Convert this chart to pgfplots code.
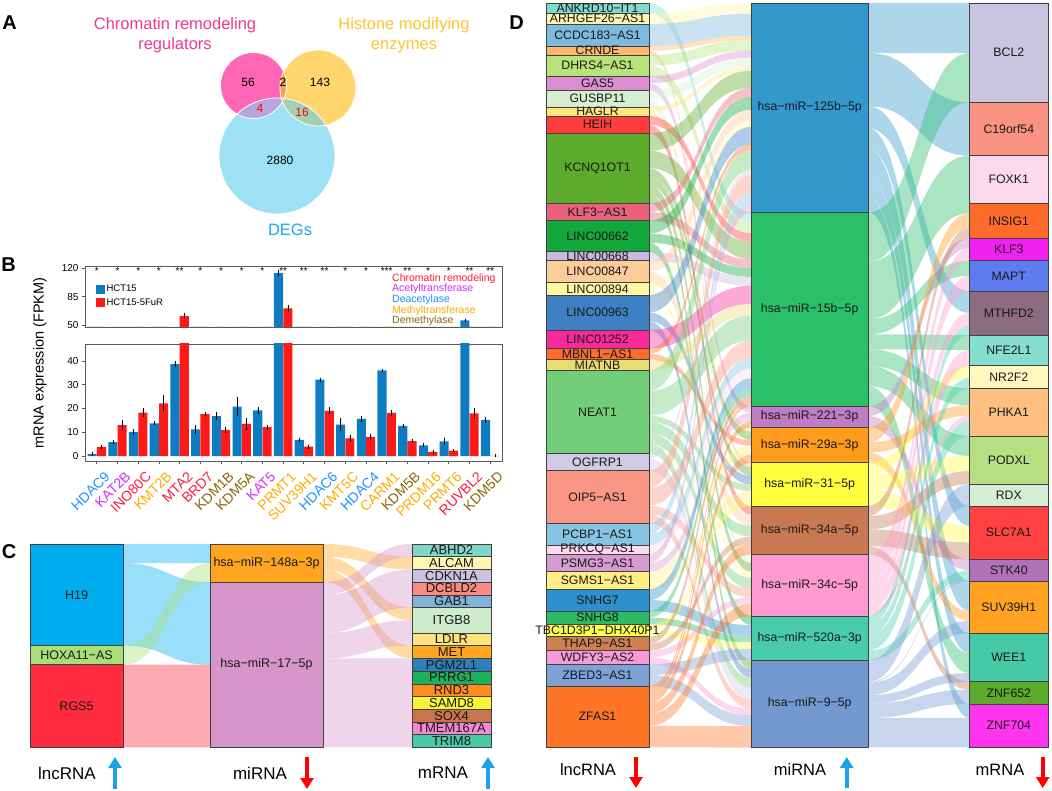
\documentclass[border=0pt]{standalone}
\usepackage{fontspec}
\setmainfont{Liberation Sans}
\usepackage{pgfplots}
\pgfplotsset{compat=1.18}
\usepackage{pgfplotstable}
\usetikzlibrary{arrows.meta}

\newcommand\fs[1]{\fontsize{#1}{#1}\selectfont}

% Venn colours
\definecolor{vPink}{HTML}{FF66B5}\definecolor{vOra}{HTML}{FFD66E}\definecolor{vBlu}{HTML}{9EE0F4}
\definecolor{vPO}{HTML}{F5A04C}\definecolor{vPB}{HTML}{B8A6DB}\definecolor{vOB}{HTML}{A3CFB2}
\definecolor{tPink}{HTML}{F2388E}\definecolor{tOra}{HTML}{FFC52E}\definecolor{tBlu}{HTML}{1AA8E6}
% bar chart colours
\definecolor{bBlu}{HTML}{0E7CC1}\definecolor{bRed}{HTML}{FF1A1A}
\definecolor{cRem}{HTML}{FF1A3C}\definecolor{cAce}{HTML}{D42AFF}\definecolor{cDea}{HTML}{1E90FF}
\definecolor{cMet}{HTML}{FFAA00}\definecolor{cDem}{HTML}{8B6508}
\definecolor{aBlu}{HTML}{1AA3E8}\definecolor{aRed}{HTML}{FF0000}
% sankey C
\definecolor{dcl1}{HTML}{00AEEF}\definecolor{dcl2}{HTML}{A8DF78}\definecolor{dcl3}{HTML}{FF2B3E}
\definecolor{dcm1}{HTML}{FFA51F}\definecolor{dcm2}{HTML}{D696CA}
\definecolor{dcr01}{HTML}{7FD7C7}\definecolor{dcr02}{HTML}{FFF6B3}\definecolor{dcr03}{HTML}{CAC3E0}
\definecolor{dcr04}{HTML}{F98B80}\definecolor{dcr05}{HTML}{80B3D6}\definecolor{dcr06}{HTML}{CEEBCB}
\definecolor{dcr07}{HTML}{FFE47D}\definecolor{dcr08}{HTML}{FFA51F}\definecolor{dcr09}{HTML}{2C80BA}
\definecolor{dcr10}{HTML}{20B05B}\definecolor{dcr11}{HTML}{FF8C1F}\definecolor{dcr12}{HTML}{F8F536}
\definecolor{dcr13}{HTML}{C8744F}\definecolor{dcr14}{HTML}{F688D2}\definecolor{dcr15}{HTML}{48CAA7}
% sankey D
\definecolor{dl01}{HTML}{80D9CD}\definecolor{dl02}{HTML}{FFF5B0}\definecolor{dl03}{HTML}{7DBADD}
\definecolor{dl04}{HTML}{FDB66C}\definecolor{dl05}{HTML}{B6E37B}\definecolor{dl06}{HTML}{D98FD1}
\definecolor{dl07}{HTML}{D6EFD1}\definecolor{dl08}{HTML}{FFE680}\definecolor{dl09}{HTML}{FF3D3D}
\definecolor{dl10}{HTML}{5CAB2C}\definecolor{dl11}{HTML}{E9617B}\definecolor{dl12}{HTML}{12A83B}
\definecolor{dl13}{HTML}{C9B9DE}\definecolor{dl14}{HTML}{FDCC9B}\definecolor{dl15}{HTML}{FFF7A1}
\definecolor{dl16}{HTML}{3F80C3}\definecolor{dl17}{HTML}{F7299B}\definecolor{dl18}{HTML}{FF6B2B}
\definecolor{dl19}{HTML}{E9DD72}\definecolor{dl20}{HTML}{73CE79}\definecolor{dl21}{HTML}{D0CAE7}
\definecolor{dl22}{HTML}{F99686}\definecolor{dl23}{HTML}{87C4E4}\definecolor{dl24}{HTML}{FCD9EB}
\definecolor{dl25}{HTML}{D79BD1}\definecolor{dl26}{HTML}{FFEE81}\definecolor{dl27}{HTML}{2D90CD}
\definecolor{dl28}{HTML}{2FB966}\definecolor{dl29}{HTML}{FFFF4E}\definecolor{dl30}{HTML}{CE8053}
\definecolor{dl31}{HTML}{F79BD7}\definecolor{dl32}{HTML}{7DA0D5}\definecolor{dl33}{HTML}{FF7527}
\definecolor{dmA}{HTML}{3399CC}\definecolor{dmB}{HTML}{2BBF6A}\definecolor{dmC}{HTML}{C07CC4}
\definecolor{dmD}{HTML}{FF9B1B}\definecolor{dmE}{HTML}{FFFF40}\definecolor{dmF}{HTML}{C97951}
\definecolor{dmG}{HTML}{FF9AD1}\definecolor{dmH}{HTML}{48CCAB}\definecolor{dmI}{HTML}{7399D0}
\definecolor{dr01}{HTML}{C9C4E0}\definecolor{dr02}{HTML}{FA9383}\definecolor{dr03}{HTML}{FDDAEB}
\definecolor{dr04}{HTML}{FF6B2B}\definecolor{dr05}{HTML}{F021F0}\definecolor{dr06}{HTML}{5F7BF1}
\definecolor{dr07}{HTML}{8C6C7E}\definecolor{dr08}{HTML}{86DED1}\definecolor{dr09}{HTML}{FFF8C1}
\definecolor{dr10}{HTML}{FDC081}\definecolor{dr11}{HTML}{B6DF81}\definecolor{dr12}{HTML}{D6EED6}
\definecolor{dr13}{HTML}{FF4141}\definecolor{dr14}{HTML}{B171B9}\definecolor{dr15}{HTML}{FFA121}
\definecolor{dr16}{HTML}{46CAA6}\definecolor{dr17}{HTML}{5CAB2C}\definecolor{dr18}{HTML}{FF34EF}

\tikzset{
  labC/.style={font=\fs{12.5},inner sep=0pt,text=black!90},
  labCr/.style={font=\fs{13},inner sep=0pt,text=black!90},
  labD/.style={font=\fs{12.3},inner sep=0pt,text=black!90},
  star/.style={anchor=north,inner sep=0pt,font=\fs{10}},
  arr/.style={line width=3.6pt,-{Triangle[length=11pt,width=13pt]}},
}

% panel B values: HCT15 and HCT15-5FuR, with error
\pgfplotstableread{
i hc hce fu fue
0 0.8 0.3 3.8 0.2
1 5.8 0.2 13.0 1.5
2 10.2 0.8 18.3 1.2
3 13.8 0.2 22.2 2.8
4 38.7 0.6 61.0 1.8
5 11.2 1.5 17.6 0.2
6 16.8 1.2 11.0 0.6
7 20.8 3.5 13.5 2.0
8 19.2 0.8 12.2 0.5
9 114.0 2.5 70.6 2.5
10 6.8 0.2 4.0 0.3
11 32.2 0.3 19.0 0.9
12 13.2 2.2 7.4 0.9
13 15.6 0.6 8.1 0.8
14 36.1 0.2 18.2 0.6
15 12.7 0.4 6.3 0.2
16 4.5 0.3 1.7 0.2
17 6.2 1.0 2.3 0.2
18 55.7 0.5 18.0 1.7
19 15.2 0.6 0.1 0.0
}\tabB

% sankey helpers: node = name, top, bottom, label
\newcommand\Nset[4]{%
  \expandafter\xdef\csname off@#1@s\endcsname{#2}%
  \expandafter\xdef\csname off@#1@d\endcsname{#2}}
\newcommand\Ndraw[4]{%
  \pgfmathsetmacro\ym{(#2+#3)/2}%
  \edef\tmp{\noexpand\filldraw[fill=d#1,draw=black!75,line width=0.5pt] (\nxa,#2) rectangle (\nxb,#3);
    \noexpand\node[\nsty] at (\nxm,\ym) {#4};}%
  \tmp}
% flow = source, target, width
\newcommand\Flw[3]{%
  \edef\fa{\csname off@#1@s\endcsname}%
  \edef\fc{\csname off@#2@d\endcsname}%
  \pgfmathsetmacro\fb{\fa+#3}%
  \pgfmathsetmacro\fd{\fc+#3}%
  \expandafter\xdef\csname off@#1@s\endcsname{\fb}%
  \expandafter\xdef\csname off@#2@d\endcsname{\fd}%
  \edef\tmp{\noexpand\fill[d#1,fill opacity=0.4] (\fxa,\fa) .. controls (\fxm,\fa) and (\fxm,\fc) .. (\fxb,\fc)
    -- (\fxb,\fd) .. controls (\fxm,\fd) and (\fxm,\fb) .. (\fxa,\fb) -- cycle;}%
  \tmp}

\def\CL{%
 \nd{cl1}{544}{645.65}{H19}%
 \nd{cl2}{645.65}{664.71}{HOXA11−AS}%
 \nd{cl3}{664.71}{747.3}{RGS5}}
\def\CM{%
 \nd{cm1}{544}{582.12}{hsa−miR−148a−3p}%
 \nd{cm2}{582.12}{747.3}{hsa−miR−17−5p}}
\def\CR{%
 \nd{cr01}{544}{556.71}{ABHD2}%
 \nd{cr02}{556.71}{569.41}{ALCAM}%
 \nd{cr03}{569.41}{582.12}{CDKN1A}%
 \nd{cr04}{582.12}{594.83}{DCBLD2}%
 \nd{cr05}{594.83}{607.53}{GAB1}%
 \nd{cr06}{607.53}{632.94}{ITGB8}%
 \nd{cr07}{632.94}{645.65}{LDLR}%
 \nd{cr08}{645.65}{658.36}{MET}%
 \nd{cr09}{658.36}{671.06}{PGM2L1}%
 \nd{cr10}{671.06}{683.77}{PRRG1}%
 \nd{cr11}{683.77}{696.47}{RND3}%
 \nd{cr12}{696.47}{709.18}{SAMD8}%
 \nd{cr13}{709.18}{721.89}{SOX4}%
 \nd{cr14}{721.89}{734.59}{TMEM167A}%
 \nd{cr15}{734.59}{747.3}{TRIM8}}

\def\DL{%
 \nd{l01}{3}{13.3}{ANKRD10−IT1}%
 \nd{l02}{13.3}{24}{ARHGEF26−AS1}%
 \nd{l03}{24}{46}{CCDC183−AS1}%
 \nd{l04}{46}{55}{CRNDE}%
 \nd{l05}{55}{76}{DHRS4−AS1}%
 \nd{l06}{76}{90}{GAS5}%
 \nd{l07}{90}{107.3}{GUSBP11}%
 \nd{l08}{107.3}{116}{HAGLR}%
 \nd{l09}{116}{133.3}{HEIH}%
 \nd{l10}{133.3}{203.3}{KCNQ1OT1}%
 \nd{l11}{203.3}{220.7}{KLF3−AS1}%
 \nd{l12}{220.7}{251.7}{LINC00662}%
 \nd{l13}{251.7}{260.7}{LINC00668}%
 \nd{l14}{260.7}{282.7}{LINC00847}%
 \nd{l15}{282.7}{295}{LINC00894}%
 \nd{l16}{295}{330}{LINC00963}%
 \nd{l17}{330}{348.3}{LINC01252}%
 \nd{l18}{348.3}{359.3}{MBNL1−AS1}%
 \nd{l19}{359.3}{370.7}{MIATNB}%
 \nd{l20}{370.7}{453.3}{NEAT1}%
 \nd{l21}{453.3}{470.7}{OGFRP1}%
 \nd{l22}{470.7}{523.3}{OIP5−AS1}%
 \nd{l23}{523.3}{545}{PCBP1−AS1}%
 \nd{l24}{545}{554.3}{PRKCQ−AS1}%
 \nd{l25}{554.3}{571.7}{PSMG3−AS1}%
 \nd{l26}{571.7}{589.3}{SGMS1−AS1}%
 \nd{l27}{589.3}{611}{SNHG7}%
 \nd{l28}{611}{624.3}{SNHG8}%
 \nd{l29}{624.3}{636.7}{TBC1D3P1−DHX40P1}%
 \nd{l30}{636.7}{650.7}{THAP9−AS1}%
 \nd{l31}{650.7}{664}{WDFY3−AS2}%
 \nd{l32}{664}{686}{ZBED3−AS1}%
 \nd{l33}{686}{747.3}{ZFAS1}}
\def\DM{%
 \nd{mA}{3}{212.3}{hsa−miR−125b−5p}%
 \nd{mB}{212.3}{406}{hsa−miR−15b−5p}%
 \nd{mC}{406}{427.3}{hsa−miR−221−3p}%
 \nd{mD}{427.3}{462.7}{hsa−miR−29a−3p}%
 \nd{mE}{462.7}{506}{hsa−miR−31−5p}%
 \nd{mF}{506}{554.3}{hsa−miR−34a−5p}%
 \nd{mG}{554.3}{616}{hsa−miR−34c−5p}%
 \nd{mH}{616}{660}{hsa−miR−520a−3p}%
 \nd{mI}{660}{747.3}{hsa−miR−9−5p}}
\def\DR{%
 \nd{r01}{3}{102.3}{BCL2}%
 \nd{r02}{102.3}{155.7}{C19orf54}%
 \nd{r03}{155.7}{203.3}{FOXK1}%
 \nd{r04}{203.3}{238.3}{INSIG1}%
 \nd{r05}{238.3}{260.7}{KLF3}%
 \nd{r06}{260.7}{291}{MAPT}%
 \nd{r07}{291}{335}{MTHFD2}%
 \nd{r08}{335}{365.7}{NFE2L1}%
 \nd{r09}{365.7}{388.3}{NR2F2}%
 \nd{r10}{388.3}{436}{PHKA1}%
 \nd{r11}{436}{484.3}{PODXL}%
 \nd{r12}{484.3}{506}{RDX}%
 \nd{r13}{506}{559.3}{SLC7A1}%
 \nd{r14}{559.3}{581}{STK40}%
 \nd{r15}{581}{633.3}{SUV39H1}%
 \nd{r16}{633.3}{681.7}{WEE1}%
 \nd{r17}{681.7}{704}{ZNF652}%
 \nd{r18}{704}{747.3}{ZNF704}}

\begin{document}
\begin{tikzpicture}
\useasboundingbox (0,0) rectangle (1052pt,791pt);
\begin{axis}[at={(0pt,0pt)}, anchor=south west, scale only axis,
  width=1052pt, height=791pt, xmin=0, xmax=1052, ymin=0, ymax=791,
  y dir=reverse, hide axis, clip=false]
 % panel letters
 \node[font=\bfseries\fs{20}] at (9.5,23) {A};
 \node[font=\bfseries\fs{20}] at (8.5,265) {B};
 \node[font=\bfseries\fs{20}] at (9,551.5) {C};
 \node[font=\bfseries\fs{20}] at (516.5,23) {D};

 % ---- A: Venn diagram ----
 \fill[vPink] (253.5,85.5) circle[radius=33pt];
 \fill[vOra] (318,88) circle[radius=38pt];
 \fill[vBlu] (277,156) circle[radius=58pt];
 \fill[vPO] (282.43,101.38) arc[start angle=-28.77,end angle=24.33,radius=33pt]
   arc[start angle=154.94,end angle=200.61,radius=38pt] -- cycle;
 \fill[vPB] (236.95,114.05) arc[start angle=-120.1,end angle=-23.03,radius=33pt]
   arc[start angle=83.2,end angle=133.67,radius=58pt] -- cycle;
 \fill[vOB] (281.38,98.17) arc[start angle=-164.48,end angle=-77.69,radius=38pt]
   arc[start angle=32.16,end angle=85.67,radius=58pt] -- cycle;
 \draw[white,line width=0.8pt] (253.5,85.5) circle[radius=33pt];
 \draw[white,line width=0.8pt] (318,88) circle[radius=38pt];
 \draw[white,line width=0.8pt] (277,156) circle[radius=58pt];
 \node[font=\fontsize{16.5}{20}\selectfont,text=tPink,align=center] at (175,35) {Chromatin remodeling\\regulators};
 \node[font=\fontsize{16.5}{20}\selectfont,text=tOra,align=center] at (404,35) {Histone modifying\\enzymes};
 \node[font=\fs{16.5},text=tBlu] at (290,230) {DEGs};
 \node[font=\fs{12}] at (248,82) {56};
 \node[font=\fs{12}] at (283,82) {2};
 \node[font=\fs{12}] at (320,82) {143};
 \node[font=\fs{12},text=red] at (260,108) {4};
 \node[font=\fs{12},text=red] at (302,112) {16};
 \node[font=\fs{12}] at (280,160) {2880};

 % ---- B: annotations ----
 \node[rotate=90,font=\fs{14.5}] at (40,363) {mRNA expression (FPKM)};
 \node[anchor=west,font=\fs{10.5},text=cRem,inner sep=0pt] at (392,278.3) {Chromatin remodeling};
 \node[anchor=west,font=\fs{10.5},text=cAce,inner sep=0pt] at (392,289) {Acetyltransferase};
 \node[anchor=west,font=\fs{10.5},text=cDea,inner sep=0pt] at (392,299.6) {Deacetylase};
 \node[anchor=west,font=\fs{10.5},text=cMet,inner sep=0pt] at (392,310.3) {Methyltransferase};
 \node[anchor=west,font=\fs{10.5},text=cDem,inner sep=0pt] at (392,321) {Demethylase};

 % ---- C: sankey ----
 \let\nd\Nset \CL \CM \CR
 \def\fxa{123}\def\fxb{210}\def\fxm{166.5}
 \Flw{cl1}{cm1}{19.06}\Flw{cl1}{cm2}{82.59}
 \Flw{cl2}{cm1}{19.06}
 \Flw{cl3}{cm2}{82.59}
 \def\fxa{323}\def\fxb{412}\def\fxm{367.5}
 \Flw{cm1}{cr02}{12.706}\Flw{cm1}{cr06}{12.706}\Flw{cm1}{cr08}{12.706}
 \Flw{cm2}{cr01}{12.706}\Flw{cm2}{cr03}{12.706}\Flw{cm2}{cr04}{12.706}
 \Flw{cm2}{cr05}{12.706}\Flw{cm2}{cr06}{12.706}\Flw{cm2}{cr07}{12.706}
 \Flw{cm2}{cr09}{12.706}\Flw{cm2}{cr10}{12.706}\Flw{cm2}{cr11}{12.706}
 \Flw{cm2}{cr12}{12.706}\Flw{cm2}{cr13}{12.706}\Flw{cm2}{cr14}{12.706}
 \Flw{cm2}{cr15}{12.706}
 \let\nd\Ndraw
 \def\nxa{30}\def\nxb{123}\def\nxm{76.5}\def\nsty{labC}\CL
 \def\nxa{210}\def\nxb{323}\def\nxm{266.5}\CM
 \def\nxa{412}\def\nxb{491}\def\nxm{451.5}\def\nsty{labCr}\CR
 \node[font=\fs{17}] at (67,773) {lncRNA};
 \node[font=\fs{17}] at (260,773) {miRNA};
 \node[font=\fs{17}] at (443,773) {mRNA};
 \draw[arr,aBlu] (115,789) -- (115,757);
 \draw[arr,aRed] (307,757) -- (307,789);
 \draw[arr,aBlu] (488,789) -- (488,757);

 % ---- D: sankey ----
 \let\nd\Nset \DL \DM \DR
 \def\fxa{649}\def\fxb{751}\def\fxm{700}
 \Flw{l01}{mB}{10.3}
 \Flw{l02}{mA}{10.7}
 \Flw{l03}{mA}{22}
 \Flw{l04}{mA}{4.5}\Flw{l04}{mE}{4.5}
 \Flw{l05}{mA}{10.5}\Flw{l05}{mB}{10.5}
 \Flw{l06}{mA}{7}\Flw{l06}{mC}{7}
 \Flw{l07}{mA}{8.65}\Flw{l07}{mG}{8.65}
 \Flw{l08}{mA}{4.35}\Flw{l08}{mD}{4.35}
 \Flw{l09}{mB}{8.65}\Flw{l09}{mF}{8.65}
 \Flw{l10}{mA}{17.4}\Flw{l10}{mB}{17.4}\Flw{l10}{mD}{8.7}\Flw{l10}{mE}{8.7}\Flw{l10}{mG}{8.7}\Flw{l10}{mI}{9.1}
 \Flw{l11}{mA}{8.7}\Flw{l11}{mB}{8.7}
 \Flw{l12}{mA}{13}\Flw{l12}{mB}{9}\Flw{l12}{mH}{9}
 \Flw{l13}{mB}{9}
 \Flw{l14}{mA}{11}\Flw{l14}{mF}{11}
 \Flw{l15}{mA}{6.15}\Flw{l15}{mG}{6.15}
 \Flw{l16}{mA}{17.5}\Flw{l16}{mE}{8.75}\Flw{l16}{mI}{8.75}
 \Flw{l17}{mB}{18.3}
 \Flw{l18}{mA}{5.5}\Flw{l18}{mD}{5.5}
 \Flw{l19}{mB}{11.4}
 \Flw{l20}{mA}{20}\Flw{l20}{mB}{25}\Flw{l20}{mE}{6.35}\Flw{l20}{mF}{10.95}\Flw{l20}{mG}{10.6}\Flw{l20}{mI}{9.7}
 \Flw{l21}{mA}{5.3}\Flw{l21}{mI}{12.1}
 \Flw{l22}{mA}{17.5}\Flw{l22}{mB}{17.5}\Flw{l22}{mG}{8.8}\Flw{l22}{mI}{8.8}
 \Flw{l23}{mA}{10.85}\Flw{l23}{mB}{10.85}
 \Flw{l24}{mB}{9.3}
 \Flw{l25}{mA}{8.7}\Flw{l25}{mC}{8.7}
 \Flw{l26}{mD}{8.8}\Flw{l26}{mE}{8.8}
 \Flw{l27}{mB}{10.85}\Flw{l27}{mH}{10.85}
 \Flw{l28}{mB}{6.65}\Flw{l28}{mH}{6.65}
 \Flw{l29}{mE}{6.2}\Flw{l29}{mH}{6.2}
 \Flw{l30}{mB}{7}\Flw{l30}{mF}{7}
 \Flw{l31}{mG}{6.65}\Flw{l31}{mI}{6.65}
 \Flw{l32}{mH}{11}\Flw{l32}{mI}{11}
 \Flw{l33}{mB}{3.3}\Flw{l33}{mC}{5.6}\Flw{l33}{mD}{8.05}\Flw{l33}{mF}{10.7}\Flw{l33}{mG}{12.15}\Flw{l33}{mI}{21.5}
 \def\fxa{868.3}\def\fxb{969.3}\def\fxm{918.8}
 \Flw{mA}{r01}{50}\Flw{mA}{r02}{53.4}\Flw{mA}{r07}{22}\Flw{mA}{r13}{20}\Flw{mA}{r15}{30}\Flw{mA}{r16}{20}\Flw{mA}{r18}{13.9}
 \Flw{mB}{r01}{49.3}\Flw{mB}{r03}{47.6}\Flw{mB}{r04}{10}\Flw{mB}{r06}{15}\Flw{mB}{r08}{15}\Flw{mB}{r10}{17}\Flw{mB}{r11}{20}\Flw{mB}{r16}{19.8}
 \Flw{mC}{r05}{10}\Flw{mC}{r14}{11.3}
 \Flw{mD}{r04}{15}\Flw{mD}{r10}{10.4}\Flw{mD}{r15}{10}
 \Flw{mE}{r09}{12}\Flw{mE}{r11}{15}\Flw{mE}{r13}{16.3}
 \Flw{mF}{r04}{10}\Flw{mF}{r11}{13.3}\Flw{mF}{r13}{17}\Flw{mF}{r17}{8}
 \Flw{mG}{r05}{12.4}\Flw{mG}{r06}{15.3}\Flw{mG}{r07}{12.8}\Flw{mG}{r08}{15.7}\Flw{mG}{r10}{5.5}
 \Flw{mH}{r07}{9.2}\Flw{mH}{r09}{10.6}\Flw{mH}{r10}{14.8}\Flw{mH}{r14}{9.4}
 \Flw{mI}{r12}{21.7}\Flw{mI}{r14}{1}\Flw{mI}{r15}{12.3}\Flw{mI}{r16}{8.6}\Flw{mI}{r17}{14.3}\Flw{mI}{r18}{29.4}
 \let\nd\Ndraw
 \def\nsty{labD}
 \def\nxa{546}\def\nxb{649}\def\nxm{597.5}\DL
 \def\nxa{751}\def\nxb{868.3}\def\nxm{809.65}\DM
 \def\nxa{969.3}\def\nxb{1048.3}\def\nxm{1008.8}\DR
 \node[font=\fs{16.5}] at (588,770) {lncRNA};
 \node[font=\fs{16.5}] at (800,770) {miRNA};
 \node[font=\fs{16.5}] at (1000,770) {mRNA};
 \draw[arr,aRed] (636,757) -- (636,788);
 \draw[arr,aBlu] (846.7,788) -- (846.7,757);
 \draw[arr,aRed] (1042.7,757) -- (1042.7,788);
\end{axis}

% ---- B: upper part of the broken axis ----
\begin{axis}[at={(85pt,464pt)}, anchor=south west, scale only axis,
  width=417pt, height=61pt, xmin=-0.57, xmax=19.57, ymin=47.5, ymax=122.8,
  ytick={50,85,120}, xtick=\empty, ytick pos=left, tick align=outside,
  major tick length=3pt, axis line style={draw=black!65,line width=0.8pt},
  tick style={black!65,line width=0.8pt}, yticklabel style={font=\fs{10}},
  /pgf/number format/assume math mode=true,
  legend style={at={(0.025,0.72)}, anchor=north west, draw=none, fill=none,
    font=\fs{9.5}, row sep=1pt, inner sep=0pt},
  legend cell align=left,
  legend image code/.code={\fill[#1] (0pt,-4.5pt) rectangle (9pt,4.5pt);}]
 \addplot[ybar, bar width=0.44, bar shift=0pt, fill=bBlu, draw=none,
   error bars/.cd, y dir=both, y explicit,
   error bar style={black,line width=0.4pt},
   error mark options={mark size=1.3pt,black,line width=0.4pt}]
   table[x expr=\thisrow{i}-0.225, y=hc, y error=hce]{\tabB};
 \addlegendentry{HCT15}
 \addplot[ybar, bar width=0.44, bar shift=0pt, fill=bRed, draw=none,
   error bars/.cd, y dir=both, y explicit,
   error bar style={black,line width=0.4pt},
   error mark options={mark size=1.3pt,black,line width=0.4pt}]
   table[x expr=\thisrow{i}+0.225, y=fu, y error=fue]{\tabB};
 \addlegendentry{HCT15-5FuR}
 \node[star] at (0,121.6) {*};
 \node[star] at (1,121.6) {*};
 \node[star] at (2,121.6) {*};
 \node[star] at (3,121.6) {*};
 \node[star] at (4,121.6) {**};
 \node[star] at (5,121.6) {*};
 \node[star] at (6,121.6) {*};
 \node[star] at (7,121.6) {*};
 \node[star] at (8,121.6) {*};
 \node[star] at (9,121.6) {**};
 \node[star] at (10,121.6) {**};
 \node[star] at (11,121.6) {**};
 \node[star] at (12,121.6) {*};
 \node[star] at (13,121.6) {*};
 \node[star] at (14,121.6) {***};
 \node[star] at (15,121.6) {**};
 \node[star] at (16,121.6) {*};
 \node[star] at (17,121.6) {*};
 \node[star] at (18,121.6) {**};
 \node[star] at (19,121.6) {**};
\end{axis}

% ---- B: lower part of the broken axis ----
\begin{axis}[at={(85pt,330pt)}, anchor=south west, scale only axis,
  width=417pt, height=117pt, xmin=-0.57, xmax=19.57, ymin=-2.1, ymax=47.2,
  ytick={0,10,20,30,40}, xtick={0,...,19},
  xticklabels={\textcolor{cDea}{HDAC9},\textcolor{cAce}{KAT2B},\textcolor{cRem}{INO80C},
    \textcolor{cMet}{KMT2B},\textcolor{cRem}{MTA2},\textcolor{cRem}{BRD7},\textcolor{cDem}{KDM1B},
    \textcolor{cDem}{KDM5A},\textcolor{cAce}{KAT5},\textcolor{cMet}{PRMT1},\textcolor{cMet}{SUV39H1},
    \textcolor{cDea}{HDAC6},\textcolor{cMet}{KMT5C},\textcolor{cDea}{HDAC4},\textcolor{cMet}{CARM1},
    \textcolor{cDem}{KDM5B},\textcolor{cMet}{PRDM16},\textcolor{cMet}{PRMT6},\textcolor{cRem}{RUVBL2},
    \textcolor{cDem}{KDM5D}},
  xtick pos=bottom, ytick pos=left, tick align=outside, major tick length=3pt,
  axis line style={draw=black!65,line width=0.8pt},
  tick style={black!65,line width=0.8pt}, yticklabel style={font=\fs{10}},
  xticklabel style={xshift=7pt, yshift=-5pt, rotate=45, anchor=north east, font=\fs{14}, inner sep=1pt},
  /pgf/number format/assume math mode=true]
 \addplot[ybar, bar width=0.44, bar shift=0pt, fill=bBlu, draw=none,
   error bars/.cd, y dir=both, y explicit,
   error bar style={black,line width=0.4pt},
   error mark options={mark size=1.3pt,black,line width=0.4pt}]
   table[x expr=\thisrow{i}-0.225, y=hc, y error=hce]{\tabB};
 \addplot[ybar, bar width=0.44, bar shift=0pt, fill=bRed, draw=none,
   error bars/.cd, y dir=both, y explicit,
   error bar style={black,line width=0.4pt},
   error mark options={mark size=1.3pt,black,line width=0.4pt}]
   table[x expr=\thisrow{i}+0.225, y=fu, y error=fue]{\tabB};
\end{axis}
\end{tikzpicture}
\end{document}
